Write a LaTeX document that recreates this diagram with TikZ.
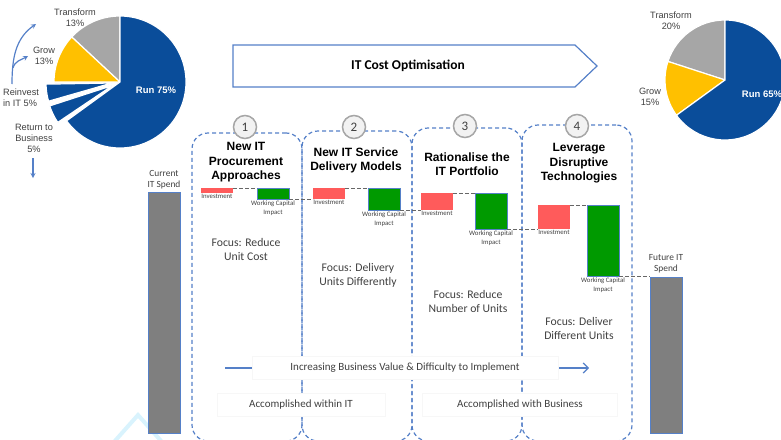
\documentclass[tikz,border=0pt]{standalone}
\usepackage{fontspec}
\setmainfont{Carlito}
\newfontfamily\arialfont{Liberation Sans}
\usepackage{tikz}
\usetikzlibrary{shapes,arrows,arrows.meta}
\usetikzlibrary{positioning}
\definecolor{runblue}{HTML}{0A4D9A}
\definecolor{growyellow}{HTML}{FFC000}
\definecolor{transgray}{HTML}{A6A6A6}
\definecolor{frameblue}{HTML}{5580C8}
\definecolor{investred}{HTML}{FF5B5B}
\definecolor{capgreen}{HTML}{009A00}
\definecolor{spendgray}{HTML}{7F7F7F}
\definecolor{textgray}{HTML}{404040}
\tikzstyle{piearrow} = [line width=1.2pt,->,>=stealth,draw=frameblue]
\tikzstyle{progarrow} = [line width=1.2pt,draw=frameblue,-{Straight Barb[length=5pt,width=10pt]}]
\tikzstyle{slice} = [draw=white, line width=1.2pt]
\tikzstyle{pielabel} = [align=center, font=\arialfont\fontsize{9.2}{11}\selectfont, text=textgray, inner sep=0pt]
\tikzstyle{runlabel} = [font=\arialfont\bfseries\fontsize{9.5}{11}\selectfont, text=white, inner sep=0pt]
\tikzstyle{stage} = [
    rectangle, rounded corners=16pt, draw=frameblue, dash pattern=on 4pt off 3pt,
    line width=1.2pt, minimum width=110pt, inner sep=0pt, outer sep=0pt]
\tikzstyle{stepnum} = [
    circle, draw=transgray, fill=gray!10, line width=1.5pt, minimum size=23pt,
    inner sep=0pt, font=\fontsize{13}{13}\selectfont, text=textgray]
\tikzstyle{stagetitle} = [align=center, font=\arialfont\bfseries\fontsize{12}{14.5}\selectfont]
\tikzstyle{focus} = [align=center, font=\fontsize{11.7}{14}\selectfont, text=textgray]
\tikzstyle{bar} = [rectangle, minimum width=32pt, inner sep=0pt, outer sep=0pt, anchor=north west]
\tikzstyle{invest} = [bar, fill=investred]
\tikzstyle{capital} = [bar, fill=capgreen, draw=frameblue, line width=1pt]
\tikzstyle{spend} = [bar, fill=spendgray, draw=frameblue, line width=1pt]
\tikzstyle{barlabel} = [align=center, font=\fontsize{6.8}{8.5}\selectfont, text=textgray, inner sep=1pt]
\tikzstyle{spendlabel} = [align=center, font=\fontsize{9.4}{11}\selectfont, text=textgray, inner sep=1pt]
\tikzstyle{link} = [dash pattern=on 4pt off 2pt, draw=gray!80!black, line width=0.8pt]
\tikzstyle{band} = [
    rectangle, fill=white, draw=gray!6, minimum height=23pt,
    font=\fontsize{11}{13}\selectfont, text=textgray]

\begin{document}
\begin{tikzpicture}[x=1pt,y=1pt]
\useasboundingbox (0,0) rectangle (781,-439);
\clip (0,0) rectangle (781,-439);
\draw [color=cyan!15, line width=4pt] (114,-442) -- (138,-415) -- (162,-442);

\fill [transgray, slice] (120,-82) -- ++(90:66) arc[start angle=90, end angle=137, radius=66pt] -- cycle;
\fill [growyellow, slice] (120,-82) -- ++(137:66) arc[start angle=137, end angle=180, radius=66pt] -- cycle;
\fill [runblue, slice] (120,-82) -- ++(216:66) arc[start angle=216, end angle=450, radius=66pt] -- cycle;
\fill [runblue, slice] (112,-83) -- ++(181:66) arc[start angle=181, end angle=196, radius=66pt] -- cycle;
\fill [runblue, slice] (112.5,-85.5) -- ++(198:66) arc[start angle=198, end angle=214, radius=66pt] -- cycle;
\node (ltrans) [pielabel] at (75,-17.5) {Transform\\13\%};
\node (lgrow) [pielabel] at (44,-55.5) {Grow\\13\%};
\node (lreinvest) [pielabel, align=left, anchor=west] at (3,-97.5) {Reinvest\\in IT 5\%};
\node (lreturn) [pielabel] at (34,-138.5) {Return to\\Business\\5\%};
\node (lrun) [runlabel] at (156,-90) {Run 75\%};
\coordinate (loopbase) at (12,-84);
\coordinate (transtip) at (36,-24);
\coordinate (loopmid) at (13,-68);
\coordinate (growtip) at (28,-56);
\coordinate (downstart) at (33,-158);
\coordinate (downend) at (33,-178);
\draw [piearrow] (loopbase) to[out=90,in=215] (transtip);
\draw [piearrow] (loopmid) to[out=75,in=210] (growtip);
\draw [piearrow] (downstart) -- (downend);

\fill [transgray, slice] (725,-80) -- ++(90:60) arc[start angle=90, end angle=162, radius=60pt] -- cycle;
\fill [growyellow, slice] (725,-80) -- ++(162:60) arc[start angle=162, end angle=216, radius=60pt] -- cycle;
\fill [runblue, slice] (725,-80) -- ++(216:60) arc[start angle=216, end angle=450, radius=60pt] -- cycle;
\node (rtrans) [pielabel] at (671,-20.5) {Transform\\20\%};
\node (rgrow) [pielabel] at (650,-97) {Grow\\15\%};
\node (rrun) [runlabel] at (762,-94) {Run 65\%};

\draw [frameblue, line width=1.2pt, fill=white] (233,-45) -- (575,-45) -- (597,-66) -- (575,-87) -- (233,-87) -- cycle;
\node (banner) [font=\bfseries\fontsize{13.5}{16}\selectfont] at (408,-66) {IT Cost Optimisation};

\node (frame1) [stage, minimum height=308pt] at (247,-287) {};
\node (frame2) [stage, minimum height=310pt] at (357,-286) {};
\node (frame3) [stage, minimum height=313pt] at (467,-284.5) {};
\node (frame4) [stage, minimum height=316pt] at (577,-283) {};

\coordinate (progstart) at (225,-368);
\coordinate (progend) at (589,-368);
\draw [progarrow] (progstart) -- (progend);
\node (progress) [band, minimum width=306pt] at (405,-368) {Increasing Business Value \& Difficulty to Implement};
\node (withinIT) [band, minimum width=168pt] at (301,-405) {Accomplished within IT};
\node (withBiz) [band, minimum width=195pt] at (520,-405) {Accomplished with Business};

\node (num1) [stepnum] at (245,-127) {1};
\node (num2) [stepnum] at (354,-127) {2};
\node (num3) [stepnum] at (465,-126) {3};
\node (num4) [stepnum] at (577,-126) {4};

\node (title1) [stagetitle] at (246,-162.5) {New IT\\Procurement\\Approaches};
\node (title2) [stagetitle] at (356,-160.5) {New IT Service\\Delivery Models};
\node (title3) [stagetitle] at (467,-164) {Rationalise the\\IT Portfolio};
\node (title4) [stagetitle] at (579,-163.5) {Leverage\\Disruptive\\Technologies};

\node (focus1) [focus] at (246,-249) {Focus: Reduce\\Unit Cost};
\node (focus2) [focus] at (358,-275) {Focus: Delivery\\Units Differently};
\node (focus3) [focus] at (468,-301.5) {Focus: Reduce\\Number of Units};
\node (focus4) [focus] at (579,-328) {Focus: Deliver\\Different Units};

\node (cur) [spend, minimum height=241pt] at (148,-192) {};
\node (inv1) [invest, minimum height=5pt] at (201,-188) {};
\node (wc1) [capital, minimum height=11pt] at (257,-188) {};
\node (inv2) [invest, minimum height=11pt] at (313,-188) {};
\node (wc2) [capital, minimum height=22pt] at (368,-188) {};
\node (inv3) [invest, minimum height=17pt] at (421,-193) {};
\node (wc3) [capital, minimum height=36pt] at (475,-193) {};
\node (inv4) [invest, minimum height=24pt] at (538,-205) {};
\node (wc4) [capital, minimum height=71pt] at (587,-205) {};
\node (fut) [spend, minimum height=156pt] at (650,-277) {};

\draw [link] (inv1.north east) -- (wc1.north west);
\draw [link] (wc1.south east) -- (inv2.south west);
\draw [link] (inv2.north east) -- (wc2.north west);
\draw [link] (wc2.south east) -- (inv3.south west);
\draw [link] (inv3.north east) -- (wc3.north west);
\draw [link] (wc3.south east) -- (inv4.south west);
\draw [link] (inv4.north east) -- (wc4.north west);
\draw [link] (wc4.south east) -- (wc4.south east -| fut.west);

\node (curlbl) [spendlabel, above=2pt of cur] {Current\\IT Spend};
\node (futlbl) [spendlabel, above=3pt of fut] {Future IT\\Spend};
\node (inv1lbl) [barlabel, below=0pt of inv1] {Investment};
\node (inv2lbl) [barlabel, below=0pt of inv2] {Investment};
\node (inv3lbl) [barlabel, below=0pt of inv3] {Investment};
\node (inv4lbl) [barlabel, below=0pt of inv4] {Investment};
\node (wc1lbl) [barlabel, below=1pt of wc1] {Working Capital\\Impact};
\node (wc2lbl) [barlabel, below=1pt of wc2] {Working Capital\\Impact};
\node (wc3lbl) [barlabel, below=1pt of wc3] {Working Capital\\Impact};
\node (wc4lbl) [barlabel, below=1pt of wc4] {Working Capital\\Impact};
\end{tikzpicture}
\end{document}
